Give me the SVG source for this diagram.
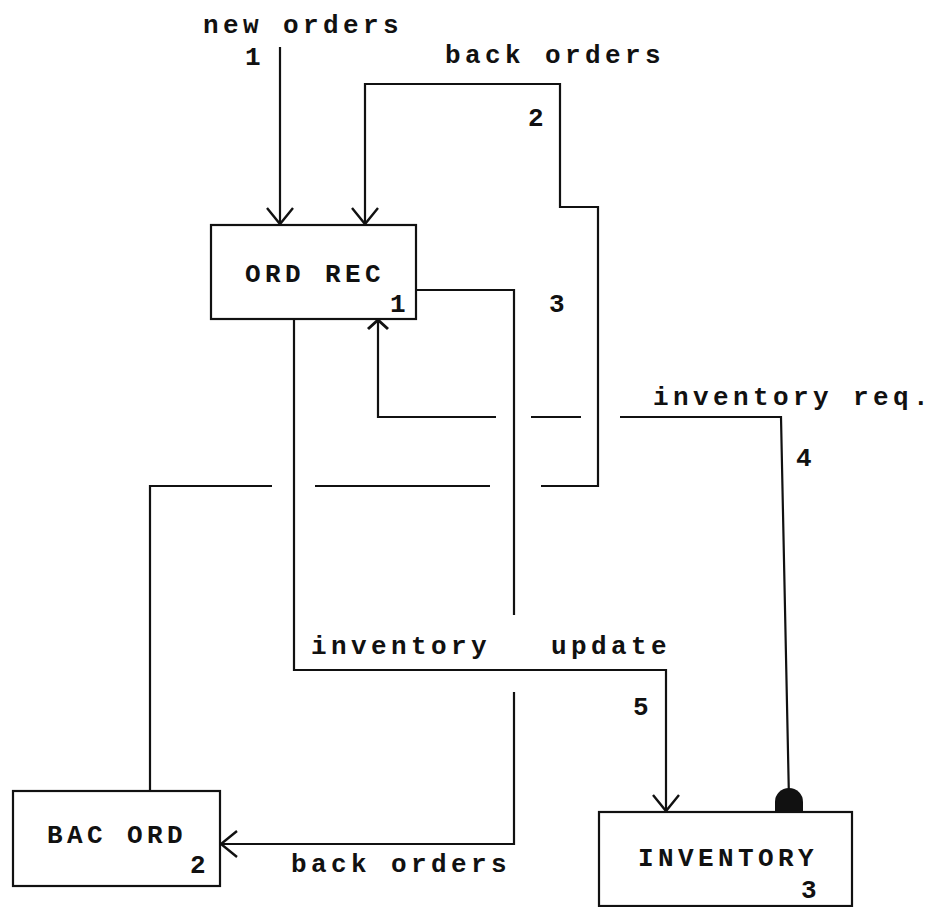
<svg xmlns="http://www.w3.org/2000/svg" width="936" height="907" viewBox="0 0 936 907">
<defs>
<style>
.t{font-family:"Liberation Mono","DejaVu Sans Mono",monospace;font-weight:bold;font-size:26px;letter-spacing:4.4px;fill:#111;white-space:pre}
.box{fill:#fff;stroke:#111;stroke-width:2.2}
.c{fill:none;stroke:#111;stroke-width:2.2;stroke-linejoin:miter}
</style>
<marker id="arr" markerUnits="userSpaceOnUse" viewBox="-20 -16 24 32" refX="0" refY="0" markerWidth="24" markerHeight="32" orient="auto">
<path d="M-16,-13 L0,0 L-16,13" fill="none" stroke="#111" stroke-width="2.4"/>
</marker>
<marker id="arrs" markerUnits="userSpaceOnUse" viewBox="-14 -12 18 24" refX="0" refY="0" markerWidth="18" markerHeight="24" orient="auto">
<path d="M-9,-10 L0,0 L-9,10" fill="none" stroke="#111" stroke-width="3"/>
</marker>
</defs>
<rect width="936" height="907" fill="#fff"/>

<g id="connectors">
<!-- 1 new orders -->
<path class="c" d="M280,47 L280,224" marker-end="url(#arr)"/>
<!-- 2 back orders loop -->
<path class="c" d="M150,791 L150,486 L272,486"/>
<path class="c" d="M315,486 L490,486"/>
<path class="c" d="M541,486 L598,486 L598,207 L560,207 L560,84 L365,84 L365,224" marker-end="url(#arr)"/>
<!-- 3 back orders to BAC ORD -->
<path class="c" d="M416,290 L514,290 L514,615"/>
<path class="c" d="M514,692 L514,844 L221,844" marker-end="url(#arr)"/>
<!-- 4 inventory req. -->
<path class="c" d="M789,800 L781,417 L620,417"/>
<path class="c" d="M581,417 L531,417"/>
<path class="c" d="M496,417 L378,417 L378,320" marker-end="url(#arrs)"/>
<path d="M775,812 L775,802 A14,14 0 0 1 803,802 L803,812 Z" fill="#111"/>
<!-- 5 inventory update -->
<path class="c" d="M294,319 L294,670 L666,670 L666,811" marker-end="url(#arr)"/>
</g>

<g id="labels">
<text class="t" x="203" y="33">new orders</text>
<text class="t" x="245" y="65">1</text>
<text class="t" x="445" y="63">back orders</text>
<text class="t" x="528" y="126">2</text>
<text class="t" x="549" y="312">3</text>
<text class="t" x="653" y="405">inventory req.</text>
<text class="t" x="796" y="466">4</text>
<text class="t" x="311" y="654">inventory   update</text>
<text class="t" x="633" y="715">5</text>
<text class="t" x="291" y="872">back orders</text>
</g>

<g id="ord-rec">
<rect class="box" x="211" y="225" width="205" height="94"/>
<text class="t" x="245" y="282">ORD REC</text>
<text class="t" x="390" y="312">1</text>
</g>

<g id="bac-ord">
<rect class="box" x="13" y="791" width="207" height="95"/>
<text class="t" x="47" y="843">BAC ORD</text>
<text class="t" x="190" y="873">2</text>
</g>

<g id="inventory">
<rect class="box" x="599" y="812" width="253" height="94"/>
<text class="t" x="638" y="866">INVENTORY</text>
<text class="t" x="801" y="898">3</text>
</g>
</svg>
